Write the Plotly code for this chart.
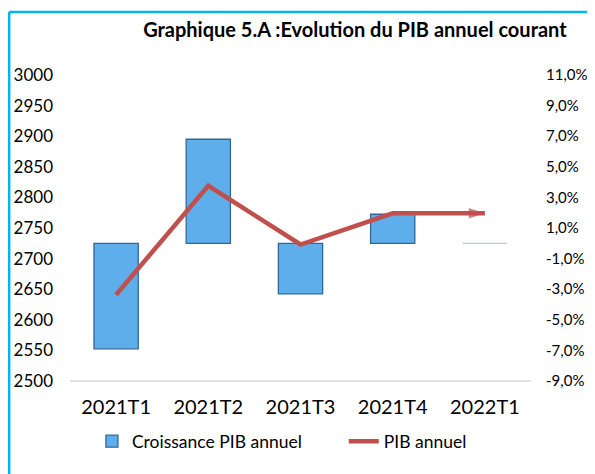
import plotly.graph_objects as go

# Data
quarters = ["2021T1", "2021T2", "2021T3", "2021T4", "2022T1"]
croissance_pct = [-6.9, 6.8, -3.3, 1.9, 0.0]      # right axis, %
pib_annuel = [2641, 2819, 2723, 2774, 2774]        # left axis

left_ticks = list(range(2500, 3001, 50))
right_ticks = [-9, -7, -5, -3, -1, 1, 3, 5, 7, 9, 11]
right_labels = [f"{v},0%" for v in right_ticks]

FONT = "Lato, 'Open Sans', sans-serif"

# page body adds an 8px offset, so the figure is drawn 8px smaller
W, H = 587, 466

fig = go.Figure()

# Growth bars on the percent axis (primary, drawn underneath)
bar_edges = ["#2F6898"] * (len(quarters) - 1) + ["#C3C6D6"]
fig.add_trace(go.Bar(
    x=quarters,
    y=croissance_pct,
    name="Croissance PIB annuel",
    yaxis="y",
    legend="legend",
    showlegend=True,
    marker=dict(color="#5FAEEC", line=dict(color=bar_edges, width=1.3)),
))

# PIB line with an arrow head at the end, on the overlaying axis so it sits on top
n = len(quarters)
fig.add_trace(go.Scatter(
    x=quarters,
    y=pib_annuel,
    name="PIB annuel",
    yaxis="y2",
    legend="legend2",
    showlegend=True,
    mode="lines+markers",
    line=dict(color="#C0504D", width=4.5),
    marker=dict(
        symbol=["circle"] * (n - 1) + ["arrow"],
        size=[0] * (n - 1) + [17],
        angleref="previous",
        color="#C0504D",
        line=dict(width=0),
    ),
))

# outer frame of the original chart (blue left and top edges)
fig.add_shape(type="line", xref="paper", yref="paper",
              x0=-0.132, x1=-0.132, y0=1.206, y1=-0.4,
              line=dict(color="#00B4F0", width=2.5))
fig.add_shape(type="line", xref="paper", yref="paper",
              x0=-0.132, x1=1.2, y0=1.206, y1=1.206,
              line=dict(color="#00B4F0", width=2.5))

# light baseline at the bottom of the plot
fig.add_shape(type="line", xref="paper", yref="paper",
              x0=0, x1=1, y0=0, y1=0,
              line=dict(color="#D9D9D9", width=1.5), layer="below")

legend_style = dict(
    orientation="h",
    xref="container", xanchor="left",
    y=-0.197, yanchor="middle",
    font=dict(size=17.5),
    bgcolor="rgba(0,0,0,0)",
)

fig.update_layout(
    width=W,
    height=H,
    showlegend=True,
    paper_bgcolor="white",
    plot_bgcolor="white",
    font=dict(family=FONT, color="#000000", size=15),
    margin=dict(l=62, r=64, t=67, b=93, autoexpand=False),
    title=dict(
        text="<b>Graphique 5.A :Evolution du PIB annuel courant</b>",
        font=dict(size=20, family=FONT),
        x=0.591, xanchor="center",
        y=0.953, yanchor="middle",
    ),
    bargap=0.52,
    xaxis=dict(
        showgrid=False,
        showline=False,
        tickfont=dict(size=20),
        ticks="",
        ticklabelstandoff=12,
    ),
    yaxis=dict(
        range=[-9, 11],
        tickvals=right_ticks,
        ticktext=right_labels,
        side="right",
        showgrid=False,
        zeroline=False,
        showline=False,
        ticklabelstandoff=14,
        tickfont=dict(size=15),
    ),
    yaxis2=dict(
        range=[2500, 3000],
        tickvals=left_ticks,
        tickformat="d",
        overlaying="y",
        side="left",
        showgrid=False,
        zeroline=False,
        showline=False,
        ticklabelstandoff=16,
        tickfont=dict(size=17),
    ),
    legend=dict(legend_style, x=0.143),
    legend2=dict(legend_style, x=0.572),
)

fig.write_html("out.html")
